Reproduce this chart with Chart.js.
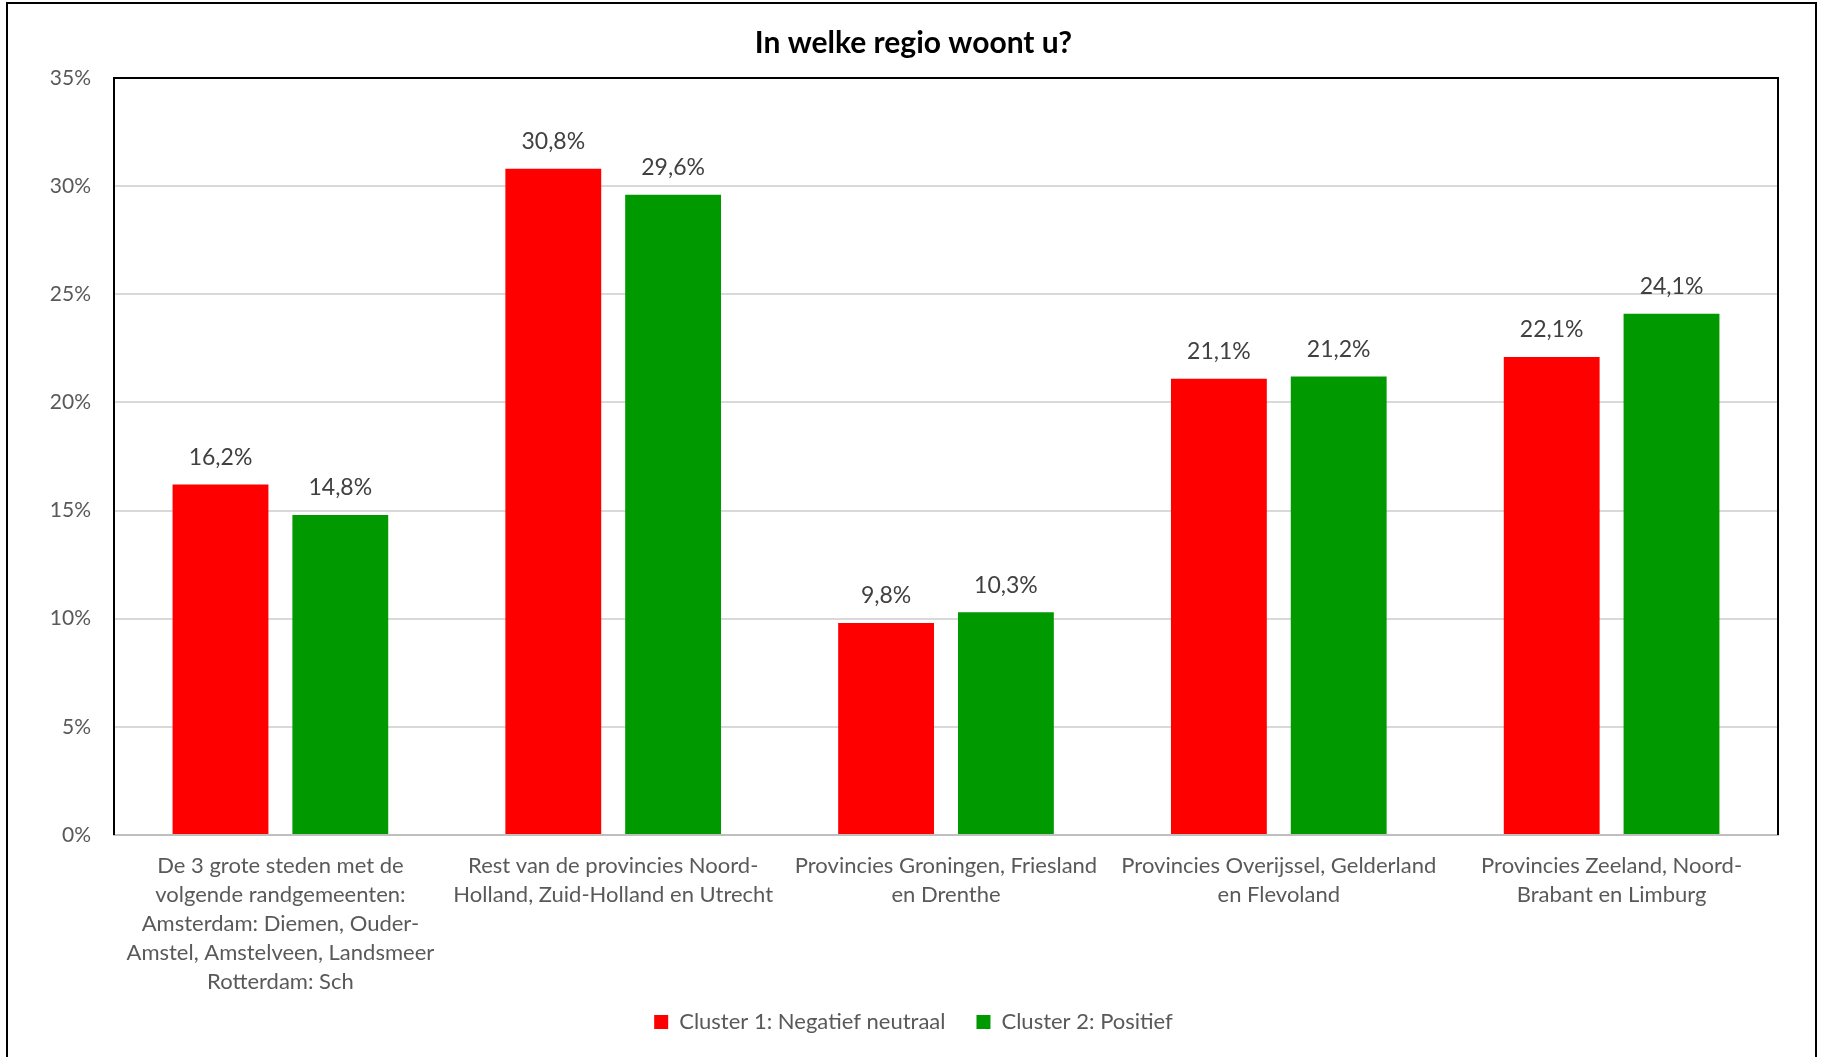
<!DOCTYPE html>
<html>
<head>
<meta charset="utf-8">
<script src="https://cdn.jsdelivr.net/npm/chart.js@4.4.1/dist/chart.umd.min.js"></script>
<style>
  html, body { margin: 0; padding: 0; background: #fff; overflow: hidden; }
  #wrap { position: absolute; left: 0; top: 0; width: 1827px; height: 1057px; }
  #frame { position: absolute; left: 6px; top: 2px; width: 1811px; height: 1100px;
           border: 2px solid #000; box-sizing: border-box; pointer-events: none; }
</style>
</head>
<body>
<div id="wrap">
  <canvas id="regioChart" width="1827" height="1057"></canvas>
  <div id="frame"></div>
</div>
<script>
// Chart data
const regions = [
    ['De 3 grote steden met de', 'volgende randgemeenten:', 'Amsterdam: Diemen, Ouder-', 'Amstel, Amstelveen, Landsmeer', 'Rotterdam: Sch'],
    ['Rest van de provincies Noord-', 'Holland, Zuid-Holland en Utrecht'],
    ['Provincies Groningen, Friesland', 'en Drenthe'],
    ['Provincies Overijssel, Gelderland', 'en Flevoland'],
    ['Provincies Zeeland, Noord-', 'Brabant en Limburg']
];
const cluster1Values = [16.2, 30.8, 9.8, 21.1, 22.1];
const cluster2Values = [14.8, 29.6, 10.3, 21.2, 24.1];
const seriesNames = ['Cluster 1: Negatief neutraal', 'Cluster 2: Positief'];
const yTicks = [0, 5, 10, 15, 20, 25, 30, 35];

const FONT = 'Lato, "Open Sans", sans-serif';

// Draws the value above each bar, using the bar element positions
const barValueLabels = {
    id: 'barValueLabels',
    afterDatasetsDraw(chart) {
        const ctx = chart.ctx;
        ctx.save();
        ctx.font = '23px ' + FONT;
        ctx.fillStyle = '#404040';
        ctx.textAlign = 'center';
        ctx.textBaseline = 'middle';
        chart.data.datasets.forEach((ds, i) => {
            chart.getDatasetMeta(i).data.forEach((bar, j) => {
                const txt = ds.data[j].toFixed(1).replace('.', ',') + '%';
                ctx.fillText(txt, bar.x, bar.y - 27);
            });
        });
        ctx.restore();
    }
};

// Black frame round the plot area (top, left, right)
const plotFrame = {
    id: 'plotFrame',
    afterDraw(chart) {
        const a = chart.chartArea;
        const ctx = chart.ctx;
        ctx.save();
        ctx.strokeStyle = '#000';
        ctx.lineWidth = 2;
        ctx.beginPath();
        ctx.moveTo(a.left, a.bottom);
        ctx.lineTo(a.left, a.top);
        ctx.lineTo(a.right, a.top);
        ctx.lineTo(a.right, a.bottom);
        ctx.stroke();
        ctx.restore();
    }
};

// Let the long first category label run into the legend band without being clipped
const unclipXLabels = {
    id: 'unclipXLabels',
    afterLayout(chart) {
        chart.scales.x.bottom = chart.height;
    }
};

function createBarChart() {
    const ctx = document.getElementById('regioChart').getContext('2d');
    return new Chart(ctx, {
        type: 'bar',
        data: {
            labels: regions,
            datasets: [
                { label: seriesNames[0], data: cluster1Values, backgroundColor: '#ff0000' },
                { label: seriesNames[1], data: cluster2Values, backgroundColor: '#009900' }
            ]
        },
        options: {
            responsive: false,
            animation: false,
            categoryPercentage: 0.72,
            barPercentage: 0.8,
            // equal side padding keeps title and legend centred on the frame
            layout: { padding: { left: 49, right: 49, top: 0, bottom: 14 } },
            plugins: {
                title: {
                    display: true,
                    text: 'In welke regio woont u?',
                    color: '#000',
                    font: { family: FONT, size: 30, weight: 'bold' },
                    padding: { top: 25, bottom: 17 }
                },
                legend: {
                    position: 'bottom',
                    labels: {
                        color: '#595959',
                        font: { family: FONT, size: 22 },
                        boxWidth: 14,
                        boxHeight: 14,
                        padding: 31
                    }
                },
                tooltip: { enabled: false }
            },
            scales: {
                x: {
                    afterFit(scale) { scale.height = 145; },
                    grid: { display: false, drawTicks: false },
                    border: { color: '#bfbfbf', width: 2 },
                    ticks: {
                        color: '#595959',
                        font: { family: FONT, size: 22, lineHeight: 1.32 },
                        padding: 16,
                        maxRotation: 0,
                        autoSkip: false
                    }
                },
                y: {
                    min: 0,
                    max: 35,
                    afterFit(scale) { scale.width = 65; },
                    afterBuildTicks(scale) { scale.ticks = yTicks.map(v => ({ value: v })); },
                    grid: { color: '#d9d9d9', lineWidth: 2, drawTicks: false },
                    border: { display: false },
                    ticks: {
                        color: '#595959',
                        font: { family: FONT, size: 21 },
                        padding: 23,
                        callback: v => v + '%'
                    }
                }
            }
        },
        plugins: [barValueLabels, plotFrame, unclipXLabels]
    });
}

window.onload = function() {
    window.myBarChart = createBarChart();
};
</script>
</body>
</html>
